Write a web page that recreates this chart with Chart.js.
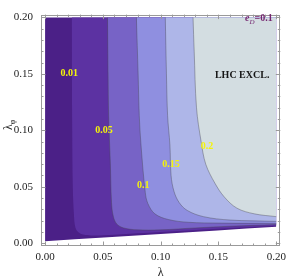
<!DOCTYPE html>
<html><head><meta charset="utf-8">
<script src="https://cdn.jsdelivr.net/npm/chart.js@4"></script>
<style>html,body{margin:0;padding:0;background:#fff}canvas{display:block}</style>
</head><body>
<canvas id="c" width="291" height="279" style="width:291px;height:279px"></canvas>
<script>
// contour levels
const levels = ['0.01', '0.05', '0.1', '0.15', '0.2'];
// lower edge of the computed region
const edgeLam = [0, 0.2];
const edgePhi = [0.0017, 0.0145];
// contour 0.01
const c1Lam = [0.023, 0.0235, 0.024, 0.025, 0.026, 0.028, 0.032, 0.04, 0.06, 0.1, 0.15, 0.2];
const c1Phi = [0.2, 0.1, 0.05, 0.025, 0.015, 0.0105, 0.0078, 0.0068, 0.0075, 0.0098, 0.0128, 0.0155];
// contour 0.05
const c2Lam = [0.054, 0.0545, 0.055, 0.0565, 0.0575, 0.059, 0.062, 0.068, 0.08, 0.1, 0.13, 0.16, 0.2];
const c2Phi = [0.2, 0.15, 0.113, 0.07, 0.036, 0.024, 0.017, 0.0135, 0.0118, 0.0118, 0.0135, 0.015, 0.0165];
// contour 0.1
const c3Lam = [0.079, 0.0805, 0.0815, 0.083, 0.0867, 0.089, 0.095, 0.1065, 0.124, 0.152, 0.2];
const c3Phi = [0.2, 0.15, 0.113, 0.087, 0.045, 0.035, 0.026, 0.021, 0.0185, 0.0178, 0.0175];
// contour 0.15
const c4Lam = [0.104, 0.105, 0.106, 0.108, 0.109, 0.1115, 0.116, 0.123, 0.137, 0.16, 0.2];
const c4Phi = [0.2, 0.15, 0.113, 0.087, 0.06, 0.046, 0.036, 0.029, 0.0235, 0.0205, 0.0193];
// contour 0.2
const c5Lam = [0.128, 0.129, 0.131, 0.135, 0.139, 0.147, 0.155, 0.166, 0.181, 0.2];
const c5Phi = [0.2, 0.17, 0.12, 0.09, 0.07, 0.053, 0.041, 0.031, 0.026, 0.0235];
// contour label positions
const labLam = [0.021, 0.051, 0.085, 0.109, 0.14];
const labPhi = [0.15, 0.1, 0.051, 0.0695, 0.0856];
const tickVals = [0, 0.05, 0.1, 0.15, 0.2];

const pts = (xs, ys) => xs.map((x, i) => ({x: x, y: ys[i]}));
const regionColors = ['#4b2087', '#5c32a2', '#7763c6', '#8f8fe0', '#aeb6e8', '#d3dde1'];

function ds(xs, ys, color, line) {
  return {
    data: pts(xs, ys),
    backgroundColor: color,
    borderColor: line ? 'rgba(70,70,80,0.5)' : 'rgba(0,0,0,0)',
    borderWidth: line ? 0.8 : 0,
    fill: {value: 0.2},
    pointRadius: 0,
    tension: 0.35
  };
}

const datasets = [
  ds(c5Lam, c5Phi, regionColors[5], true),
  ds(c4Lam, c4Phi, regionColors[4], true),
  ds(c3Lam, c3Phi, regionColors[3], true),
  ds(c2Lam, c2Phi, regionColors[2], true),
  ds(c1Lam, c1Phi, regionColors[1], false),
  ds(edgeLam, edgePhi, regionColors[0], false)
];

const serif = '"Liberation Serif", "DejaVu Serif", serif';

const framePlugin = {
  id: 'frame',
  beforeDraw(chart) {
    const c = chart.ctx;
    c.save(); c.fillStyle = '#fff'; c.fillRect(0, 0, chart.width, chart.height); c.restore();
  },
  afterDatasetsDraw(chart) {
    const c = chart.ctx, a = chart.chartArea, xs = chart.scales.x, ys = chart.scales.y;
    c.save();
    c.strokeStyle = '#9a9a9a';
    c.lineWidth = 1;
    c.strokeRect(Math.round(a.left) + 0.5, Math.round(a.top) + 0.5, Math.round(a.right - a.left) - 1, Math.round(a.bottom - a.top) - 1);
    c.beginPath();
    for (let i = 0; i <= 20; i++) {
      const v = i * 0.01;
      const len = (i % 5 === 0) ? 4.5 : 2.5;
      const px = Math.round(xs.getPixelForValue(v)) + 0.5;
      const py = Math.round(ys.getPixelForValue(v)) + 0.5;
      c.moveTo(px, a.bottom); c.lineTo(px, a.bottom - len);
      c.moveTo(px, a.top); c.lineTo(px, a.top + len);
      c.moveTo(a.left, py); c.lineTo(a.left + len, py);
      c.moveTo(a.right, py); c.lineTo(a.right - len, py);
    }
    c.stroke();

    // contour labels
    c.fillStyle = '#f4f40a';
    c.font = 'bold 10px ' + serif;
    c.textAlign = 'center';
    c.textBaseline = 'middle';
    levels.forEach((t, i) => {
      c.fillText(t, xs.getPixelForValue(labLam[i]), ys.getPixelForValue(labPhi[i]));
    });

    // annotations
    c.fillStyle = '#151515';
    c.font = 'bold 10px ' + serif;
    c.fillText('LHC EXCL.', xs.getPixelForValue(0.1705), ys.getPixelForValue(0.149));

    c.fillStyle = '#74256f';
    c.textAlign = 'left';
    c.textBaseline = 'alphabetic';
    let x0 = 245, y0 = 21;
    c.font = 'italic bold 10px ' + serif;
    c.fillText('e', x0, y0);
    x0 += c.measureText('e').width;
    c.font = 'italic 7px ' + serif;
    c.fillText('D', x0, y0 + 2.5);
    x0 += c.measureText('D').width;
    c.font = 'bold 10px ' + serif;
    c.fillText('=0.1', x0, y0);

    // axis titles
    c.fillStyle = '#222';
    c.font = '12px ' + serif;
    c.textAlign = 'center';
    c.fillText('\u03bb', (a.left + a.right) / 2, 276);

    c.translate(12, 124);
    c.rotate(-Math.PI / 2);
    c.textAlign = 'left';
    c.font = '12px ' + serif;
    c.fillText('\u03bb', -6, 0);
    const w = c.measureText('\u03bb').width;
    c.font = '8px ' + serif;
    c.fillText('\u03c6', -6 + w, 2.5);
    c.restore();
  }
};

new Chart(document.getElementById('c'), {
  type: 'line',
  data: {datasets: datasets},
  plugins: [framePlugin],
  options: {
    responsive: false,
    animation: false,
    devicePixelRatio: 1,
    layout: {padding: {left: 0, right: 6, top: 4, bottom: 0}},
    plugins: {legend: {display: false}, tooltip: {enabled: false}},
    scales: {
      x: {
        type: 'linear', min: -0.0035, max: 0.2035,
        afterBuildTicks: s => { s.ticks = tickVals.map(v => ({value: v})); },
        afterFit: s => { s.height = 33; },
        grid: {display: false, drawTicks: false},
        border: {display: false},
        ticks: {padding: 5, color: '#222', font: {family: serif, size: 11},
                maxRotation: 0, autoSkip: false, callback: v => Number(v).toFixed(2)}
      },
      y: {
        type: 'linear', min: -0.0025, max: 0.2025,
        afterBuildTicks: s => { s.ticks = tickVals.map(v => ({value: v})); },
        afterFit: s => { s.width = 41; },
        grid: {display: false, drawTicks: false},
        border: {display: false},
        ticks: {padding: 8, color: '#222', font: {family: serif, size: 11},
                autoSkip: false, callback: v => Number(v).toFixed(2)}
      }
    }
  }
});
</script>
</body></html>
